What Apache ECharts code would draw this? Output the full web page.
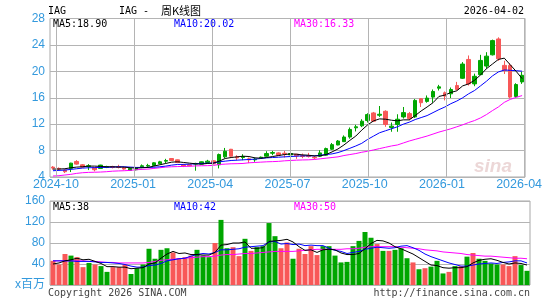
<!DOCTYPE html>
<html>
<head>
<meta charset="utf-8">
<script src="https://cdn.jsdelivr.net/npm/echarts@6/dist/echarts.min.js"></script>
<style>
  html, body { margin: 0; padding: 0; background: #fff; }
  #chart { width: 545px; height: 300px; }
</style>
</head>
<body>
<div id="chart"></div>
<script>
// IAG weekly K line, one bar per week starting 2024-09-23
const startWeek = '2024-09-23'

const opens = [5.5, 5.3, 5.05, 5.3, 6.35, 5.85, 5.6, 5.45, 5.3, 5.45,
  5.55, 5.55, 5.4, 5.0, 5.1, 5.55, 5.65, 5.75, 6.0, 6.4,
  6.8, 6.6, 5.8, 5.85, 5.95, 5.95, 6.2, 6.45, 5.85, 7.05,
  8.2, 7.05, 6.95, 6.75, 6.6, 6.9, 7.15, 7.6, 7.65, 7.6,
  7.35, 7.45, 7.2, 7.2, 7.0, 7.15, 7.3, 8.2, 8.85, 9.35,
  10.05, 11.45, 11.75, 12.55, 13.7, 13.35, 13.95, 11.5, 11.95, 13.1,
  13.6, 13.1, 15.85, 15.45, 16.1, 17.45, 16.75, 16.6, 17.85, 18.95,
  21.8, 18.1, 19.5, 20.8, 22.5, 24.9, 20.9, 20.9, 16.2, 18.4]
const closes = [5.35, 5.2, 4.8, 6.1, 5.95, 5.5, 5.7, 5.1, 5.8, 5.55,
  5.45, 5.45, 5.2, 5.3, 5.35, 5.7, 5.75, 6.15, 6.3, 6.5,
  6.5, 6.2, 5.65, 5.7, 6.05, 6.3, 6.4, 6.0, 7.4, 7.9,
  7.15, 6.9, 7.1, 6.6, 6.7, 7.0, 7.55, 7.7, 7.3, 7.5,
  7.55, 7.2, 7.1, 7.1, 6.9, 7.65, 8.3, 8.9, 9.45, 10.05,
  11.2, 11.6, 12.45, 13.45, 12.45, 13.5, 11.95, 11.7, 12.75, 13.75,
  12.85, 15.6, 15.25, 15.95, 16.95, 17.65, 16.25, 17.25, 17.25, 21.1,
  18.1, 19.25, 21.65, 22.3, 24.65, 21.9, 20.15, 16.1, 18.0, 19.4]
const lows = [5.1, 5.0, 4.6, 4.75, 5.85, 5.45, 5.05, 4.85, 5.25, 5.35,
  5.3, 5.3, 5.1, 4.95, 5.0, 5.35, 5.5, 5.7, 5.95, 6.1,
  6.45, 6.1, 5.5, 5.6, 4.95, 5.9, 6.0, 5.9, 5.3, 6.85,
  7.1, 6.55, 6.55, 6.1, 6.3, 6.85, 7.05, 7.3, 7.2, 6.95,
  7.3, 6.75, 6.85, 6.95, 6.7, 7.05, 7.25, 8.1, 8.8, 9.3,
  9.8, 10.9, 11.55, 12.25, 12.35, 13.1, 11.6, 10.85, 10.85, 12.85,
  12.6, 12.95, 14.6, 15.25, 15.25, 17.1, 15.6, 15.95, 17.1, 18.85,
  17.85, 17.75, 19.4, 20.4, 22.4, 21.6, 19.6, 15.9, 16.0, 18.1]
const highs = [5.65, 5.45, 5.15, 6.15, 6.55, 5.95, 5.95, 5.5, 5.85, 5.7,
  5.7, 5.85, 5.5, 5.35, 5.45, 5.9, 6.0, 6.25, 6.45, 6.75,
  6.85, 6.65, 6.0, 5.95, 6.15, 6.35, 6.6, 6.55, 7.55, 8.4,
  8.25, 7.3, 7.45, 6.95, 6.95, 7.1, 7.9, 7.95, 7.75, 7.95,
  7.65, 7.5, 7.55, 7.65, 7.2, 8.05, 8.45, 9.15, 9.6, 10.3,
  11.5, 11.9, 12.75, 13.65, 13.85, 14.75, 14.1, 12.25, 13.5, 14.6,
  13.85, 15.8, 15.95, 16.35, 17.25, 17.95, 16.95, 17.55, 18.4, 21.4,
  22.4, 19.65, 22.5, 22.9, 24.8, 25.15, 21.6, 21.2, 18.2, 19.9]

const ma5 = [5.2, 5.2, 5.25, 5.4, 5.5, 5.55, 5.65, 5.65, 5.6, 5.55,
  5.55, 5.5, 5.5, 5.4, 5.35, 5.4, 5.45, 5.65, 5.85, 6.05,
  6.25, 6.3, 6.2, 6.1, 6.0, 5.95, 6.05, 6.1, 6.4, 6.8,
  6.95, 7.05, 7.15, 7.1, 6.9, 6.85, 6.95, 7.1, 7.25, 7.4,
  7.5, 7.45, 7.35, 7.3, 7.2, 7.2, 7.4, 7.8, 8.25, 8.85,
  9.55, 10.2, 11.1, 11.9, 12.5, 12.8, 12.75, 12.6, 12.5, 12.65,
  12.65, 13.3, 14.0, 14.6, 15.25, 16.2, 16.4, 16.8, 17.05, 17.8,
  18.1, 18.65, 19.45, 20.4, 21.1, 21.8, 22.0, 21.0, 20.0, 18.9]
const ma10 = [4.95, 5.0, 5.05, 5.15, 5.25, 5.35, 5.4, 5.42, 5.45, 5.45,
  5.5, 5.55, 5.55, 5.5, 5.45, 5.45, 5.45, 5.48, 5.55, 5.65,
  5.8, 5.9, 5.9, 5.95, 6.0, 6.05, 6.1, 6.1, 6.3, 6.4,
  6.5, 6.55, 6.6, 6.65, 6.7, 6.8, 6.9, 6.95, 7.0, 7.05,
  7.1, 7.15, 7.2, 7.2, 7.2, 7.3, 7.4, 7.5, 7.7, 8.0,
  8.35, 8.7, 9.1, 9.7, 10.2, 10.7, 11.0, 11.3, 11.6, 12.0,
  12.3, 12.7, 13.0, 13.3, 13.75, 14.2, 14.6, 15.1, 15.5, 16.0,
  16.6, 17.1, 17.8, 18.5, 19.3, 19.9, 20.2, 20.15, 20.1, 20.02]
const ma30 = [4.15, 4.2, 4.3, 4.4, 4.55, 4.65, 4.7, 4.72, 4.75, 4.8,
  4.88, 4.92, 4.95, 5.0, 5.1, 5.15, 5.2, 5.3, 5.4, 5.5,
  5.55, 5.58, 5.6, 5.62, 5.68, 5.7, 5.72, 5.75, 5.9, 5.95,
  6.0, 6.02, 6.05, 6.15, 6.2, 6.25, 6.3, 6.33, 6.37, 6.45,
  6.5, 6.55, 6.58, 6.6, 6.65, 6.75, 6.85, 6.95, 7.05, 7.25,
  7.4, 7.55, 7.75, 7.9, 8.1, 8.3, 8.5, 8.7, 8.85, 9.15,
  9.45, 9.7, 9.95, 10.2, 10.5, 10.8, 11.05, 11.3, 11.6, 11.9,
  12.25, 12.55, 12.95, 13.45, 14.05, 14.6, 15.3, 15.75, 16.05, 16.33]

// volume, millions of shares
const volumes = [46, 39, 59, 56, 53, 34, 42, 39, 36, 25,
  34, 34, 39, 21, 32, 39, 69, 50, 67, 70,
  62, 51, 53, 56, 67, 56, 53, 80, 124, 70,
  72, 55, 88, 65, 72, 74, 118, 93, 70, 81,
  50, 69, 59, 74, 57, 74, 74, 56, 43, 44,
  74, 84, 101, 90, 78, 65, 65, 67, 70, 51,
  43, 30, 32, 35, 46, 22, 25, 36, 36, 54,
  61, 50, 46, 41, 39, 39, 36, 55, 38, 27]
const volMa5 = [40, 42, 46, 48, 51, 48, 49, 45, 41, 35,
  35, 34, 34, 31, 32, 33, 40, 42, 51, 59,
  64, 60, 61, 58, 58, 57, 57, 62, 76, 77,
  80, 80, 82, 70, 70, 71, 83, 84, 85, 87,
  82, 73, 66, 67, 62, 67, 68, 67, 61, 58,
  58, 60, 69, 79, 85, 84, 80, 73, 69, 64,
  59, 52, 45, 38, 37, 33, 32, 33, 33, 35,
  42, 47, 49, 50, 47, 43, 40, 42, 41, 38]
const volMa10 = [46, 46, 46, 46, 45, 45, 45, 44, 43, 43,
  42, 41, 39, 36, 34, 34, 37, 38, 41, 46,
  48, 50, 51, 55, 58, 60, 59, 62, 67, 67,
  68, 69, 72, 73, 74, 75, 82, 83, 78, 79,
  77, 78, 75, 76, 75, 75, 70, 66, 64, 60,
  62, 64, 68, 70, 72, 71, 70, 71, 74, 75,
  71, 66, 59, 54, 50, 46, 42, 39, 36, 36,
  38, 40, 41, 42, 41, 43, 44, 46, 46, 42]
const volMa30 = [46, 46, 46, 46, 46, 46, 45, 45, 44, 43,
  43, 42, 42, 42, 42, 42, 43, 45, 47, 48,
  49, 50, 51, 52, 53, 54, 54, 55, 57, 58,
  58, 59, 60, 60, 61, 62, 63, 64, 64, 64,
  64, 65, 66, 67, 68, 68, 68, 68, 68, 69,
  69, 70, 72, 73, 73, 73, 73, 73, 72, 71,
  70, 69, 67, 66, 65, 63, 62, 61, 60, 58,
  57, 56, 55, 55, 54, 53, 52, 51, 51, 50]

// month ticks: bar index of first week of each quarter
const tickIdx = [1, 14, 27, 40, 53, 66, 79]
const tickLabels = ['2024-10', '2025-01', '2025-04', '2025-07', '2025-10', '2026-01', '2026-04']

const weeks = []
const d0 = new Date(startWeek + 'T00:00:00Z')
for (let i = 0; i < closes.length; i++) {
  weeks.push(new Date(d0.getTime() + i * 7 * 86400000).toISOString().slice(0, 10))
}

const UP = '#00a600'
const DOWN = '#f85858'
const GRID = '#b4b4b4'
const LABEL = '#3399dd'
const mono = "10px 'DejaVu Sans Mono', monospace"
const last = a => a[a.length - 1]

// panel boxes
const kBox = { left: 50, top: 18.5, width: 480, height: 158.5 }
const vBox = { left: 50, top: 201, width: 480, height: 84 }

const kData = opens.map((o, i) => [o, closes[i], lows[i], highs[i]])
const volData = volumes.map((v, i) => ({
  value: v,
  itemStyle: { color: closes[i] >= opens[i] ? UP : DOWN }
}))

const maLine = (data, color, xi) => ({
  type: 'line', data, xAxisIndex: xi, yAxisIndex: xi,
  symbol: 'none', silent: true,
  lineStyle: { width: 1, color }
})

const txt = (x, y, text, fill, extra) => ({
  type: 'text', silent: true, z: 110,
  style: Object.assign({ x, y, text, fill, font: mono, verticalAlign: 'middle' }, extra || {})
})

// vertical month gridlines on the band boundary left of each tick week,
// drawn as 1px filled strips
const monthLines = tickIdx.map(i => {
  const x = Math.round(kBox.left + kBox.width * i / weeks.length)
  return {
    type: 'rect', silent: true, z: 100,
    shape: { x: x, y: Math.round(kBox.top), width: 1, height: Math.round(kBox.height) },
    style: { fill: GRID, stroke: null }
  }
})

const texts = [
  txt(48, 11, 'IAG', '#000'),
  txt(119, 11, 'IAG -', '#000'),
  txt(161, 11, '周K线图', '#000', { font: "11px 'Noto Sans CJK SC'" }),
  txt(524, 11, '2026-04-02', '#000', { align: 'right' }),
  txt(53, 24, 'MA5:' + last(ma5).toFixed(2), '#000'),
  txt(174, 24, 'MA10:' + last(ma10).toFixed(2), '#0000ff'),
  txt(294, 24, 'MA30:' + last(ma30).toFixed(2), '#ff00ff'),
  txt(53, 207, 'MA5:' + last(volMa5), '#000'),
  txt(174, 207, 'MA10:' + last(volMa10), '#0000ff'),
  txt(294, 207, 'MA30:' + last(volMa30), '#ff00ff'),
  txt(48, 293, 'Copyright 2026 SINA.COM', '#444'),
  txt(530, 293, 'http://finance.sina.com.cn', '#444', { align: 'right' }),
  txt(474, 167, 'sina', 'rgba(200,140,140,0.35)', { font: "italic bold 19px 'Liberation Sans'" })
]

const chart = echarts.init(document.getElementById('chart'))
chart.setOption({
  animation: false,
  grid: [
    Object.assign({ show: true, borderColor: '#a8a8a8', borderWidth: 1 }, kBox),
    Object.assign({ show: true, borderColor: '#a8a8a8', borderWidth: 1 }, vBox)
  ],
  xAxis: [
    {
      type: 'category', gridIndex: 0, data: weeks, boundaryGap: true,
      axisLine: { show: false }, axisTick: { show: false },
      axisLabel: {
        interval: i => tickIdx.includes(i),
        formatter: (v, i) => tickLabels[tickIdx.indexOf(i)],
        color: LABEL, fontSize: 12.5, fontFamily: 'Liberation Sans',
        margin: 1, padding: [0, 6, 0, 0]
      },
      splitLine: { show: false }
    },
    {
      type: 'category', gridIndex: 1, data: weeks, boundaryGap: true,
      axisLine: { show: false }, axisTick: { show: false },
      axisLabel: { show: false }, splitLine: { show: false }
    }
  ],
  yAxis: [
    {
      type: 'value', gridIndex: 0, min: 4, max: 28, interval: 4,
      axisLine: { show: false }, axisTick: { show: false },
      axisLabel: { color: LABEL, fontSize: 12, fontFamily: 'Liberation Sans', margin: 5 },
      splitLine: { lineStyle: { color: GRID } }
    },
    {
      type: 'value', gridIndex: 1, min: 0, max: 160, interval: 40,
      axisLine: { show: false }, axisTick: { show: false },
      axisLabel: {
        color: LABEL, fontSize: 12, margin: 5,
        fontFamily: "'Liberation Sans', 'Noto Sans CJK SC'",
        formatter: v => (v === 0 ? 'x百万' : v)
      },
      splitLine: { lineStyle: { color: GRID } }
    }
  ],
  series: [
    {
      type: 'candlestick', data: kData, xAxisIndex: 0, yAxisIndex: 0,
      barWidth: 4, silent: true,
      itemStyle: { color: UP, color0: DOWN, borderColor: UP, borderColor0: DOWN, borderWidth: 1 }
    },
    maLine(ma30, '#ff00ff', 0),
    maLine(ma10, '#0000ff', 0),
    maLine(ma5, '#000000', 0),
    { type: 'bar', data: volData, xAxisIndex: 1, yAxisIndex: 1, barWidth: 5, silent: true },
    maLine(volMa30, '#ff00ff', 1),
    maLine(volMa10, '#0000ff', 1),
    maLine(volMa5, '#000000', 1)
  ],
  graphic: monthLines.concat(texts)
})
</script>
</body>
</html>
